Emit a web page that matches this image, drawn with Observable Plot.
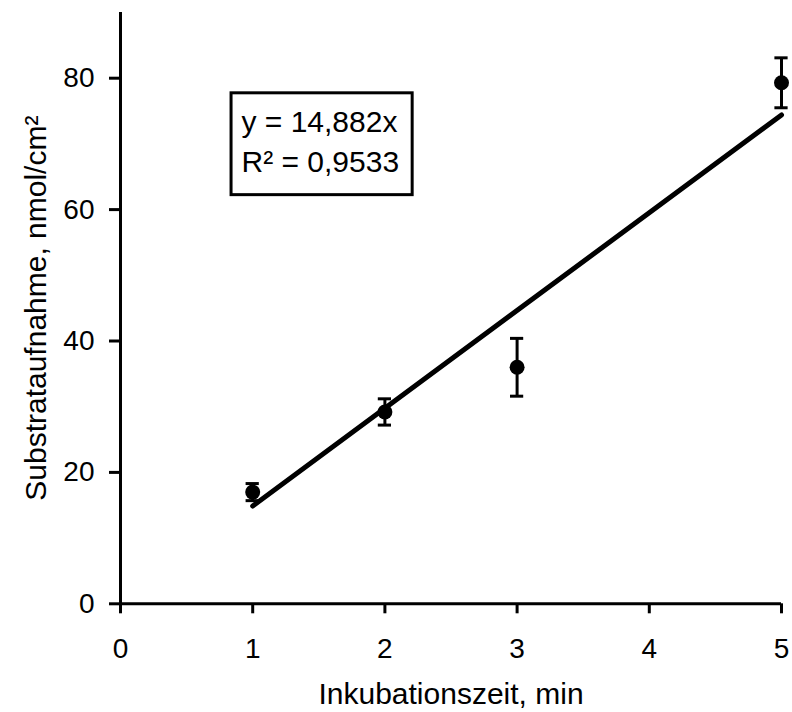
<!DOCTYPE html>
<html>
<head>
<meta charset="utf-8">
<script src="https://cdn.jsdelivr.net/npm/d3@7"></script>
<script src="https://cdn.jsdelivr.net/npm/@observablehq/plot@0.6"></script>
<style>
  html, body { margin: 0; padding: 0; background: #fff; }
  #chart svg { display: block; }
</style>
</head>
<body>
<div id="chart"></div>
<script>
// Data
const times = [1, 2, 3, 5];                 // Inkubationszeit, min
const uptake = [17.0, 29.2, 36.0, 79.3];    // Substrataufnahme, nmol/cm²
const errors = [1.3, 2.0, 4.4, 3.8];        // error bar half-lengths
const slope = 14.882;                        // trend line y = 14,882x
const fitRange = [1, 5];
const xTicks = [0, 1, 2, 3, 4, 5];
const yTicks = [0, 20, 40, 60, 80];
const eqLines = ["y = 14,882x", "R² = 0,9533"];
const eqBox = [{x1: 0.84, x2: 2.21, y1: 62.2, y2: 77.7}];
const eqPos = [{x: 0.915, y: 71.8}, {x: 0.915, y: 65.7}];

const points = times.map((t, i) => ({x: t, y: uptake[i], e: errors[i]}));
const fit = fitRange.map(x => ({x, y: slope * x}));
const eqText = eqLines.map((s, i) => ({...eqPos[i], s}));
const capHalf = 0.05;

const font = "Liberation Sans, Arial, Helvetica, sans-serif";

const chart = Plot.plot({
  width: 792,
  height: 712,
  marginLeft: 120,
  marginRight: 11,
  marginTop: 12,
  marginBottom: 108.7,
  style: {fontFamily: font, color: "#000", background: "#fff"},
  x: {domain: [0, 5]},
  y: {domain: [0, 90]},
  marks: [
    Plot.axisX({ticks: xTicks, tickSize: 10, strokeWidth: 3, label: null, tickFormat: () => ""}),
    Plot.axisY({ticks: yTicks, tickSize: 11, strokeWidth: 3, label: null, tickFormat: () => ""}),
    Plot.text(xTicks, {x: d => d, frameAnchor: "bottom", textAnchor: "middle", lineAnchor: "bottom", dy: 54, text: d => String(d), fontSize: 28, fill: "#000"}),
    Plot.text(yTicks, {y: d => d, frameAnchor: "left", textAnchor: "end", lineAnchor: "middle", dx: -26, text: d => String(d), fontSize: 28, fill: "#000"}),
    Plot.ruleX([0], {strokeWidth: 3}),
    Plot.ruleY([0], {strokeWidth: 3}),
    Plot.line(fit, {x: "x", y: "y", stroke: "#000", strokeWidth: 5}),
    Plot.ruleX(points, {x: "x", y1: d => d.y - d.e, y2: d => d.y + d.e, stroke: "#000", strokeWidth: 3}),
    Plot.ruleY(points, {y: d => d.y - d.e, x1: d => d.x - capHalf, x2: d => d.x + capHalf, stroke: "#000", strokeWidth: 3}),
    Plot.ruleY(points, {y: d => d.y + d.e, x1: d => d.x - capHalf, x2: d => d.x + capHalf, stroke: "#000", strokeWidth: 3}),
    Plot.dot(points, {x: "x", y: "y", r: 7.5, fill: "#000", stroke: null}),
    Plot.rect(eqBox, {x1: "x1", x2: "x2", y1: "y1", y2: "y2", fill: "#fff", stroke: "#000", strokeWidth: 3}),
    Plot.text(eqText, {x: "x", y: "y", text: "s", textAnchor: "start", lineAnchor: "bottom", fontSize: 30, fill: "#000"}),
    Plot.text(["Inkubationszeit, min"], {frameAnchor: "bottom", textAnchor: "middle", lineAnchor: "bottom", dy: 100, fontSize: 30, fill: "#000"}),
    Plot.text(["Substrataufnahme, nmol/cm²"], {frameAnchor: "left", textAnchor: "middle", rotate: -90, lineAnchor: "bottom", dx: -75, fontSize: 30, fill: "#000"})
  ]
});
document.getElementById("chart").appendChild(chart);
</script>
</body>
</html>
